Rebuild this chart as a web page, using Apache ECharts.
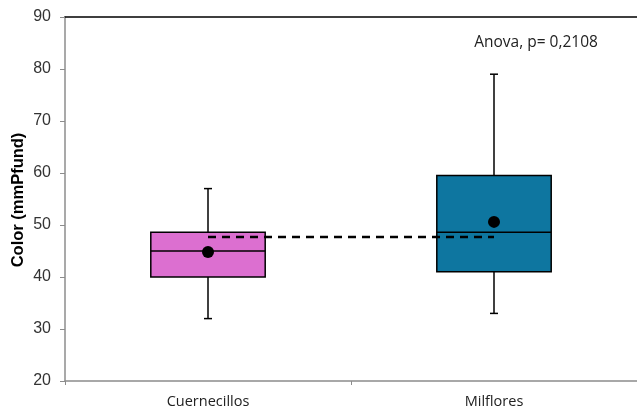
<!DOCTYPE html>
<html>
<head>
<meta charset="utf-8">
<script src="https://cdn.jsdelivr.net/npm/echarts@6/dist/echarts.min.js"></script>
<style>
  html, body { margin: 0; padding: 0; background: #fff; }
  #chart { width: 637px; height: 412px; }
</style>
</head>
<body>
<div id="chart"></div>
<script>
// categorias y estadisticos
var categories = ['Cuernecillos', 'Milflores']
var whiskerLow = [32, 33]
var q1 = [40, 41]
var median = [45, 48.6]
var q3 = [48.6, 59.5]
var whiskerHigh = [57, 79]
var means = [44.8, 50.6]
var boxColors = ['#dc6fd0', '#0e76a0']
var grandMean = 47.7
var yTicks = [20, 30, 40, 50, 60, 70, 80, 90]

var chart = echarts.init(document.getElementById('chart'))

var boxData = categories.map(function(c, i) {
  return [i, whiskerLow[i], q1[i], median[i], q3[i], whiskerHigh[i], means[i]]
})

function renderBox(params, api) {
  var i = api.value(0)
  var center = api.coord([i, api.value(3)])[0]
  var w = api.size([1, 0])[0] * 0.4
  var yLo = api.coord([i, api.value(1)])[1]
  var yQ1 = api.coord([i, api.value(2)])[1]
  var yMed = api.coord([i, api.value(3)])[1]
  var yQ3 = api.coord([i, api.value(4)])[1]
  var yHi = api.coord([i, api.value(5)])[1]
  var yMean = api.coord([i, api.value(6)])[1]
  var stroke = { stroke: '#000', lineWidth: 1.5, fill: null }
  var cap = 4
  return {
    type: 'group',
    children: [
      { type: 'line', shape: { x1: center, y1: yHi, x2: center, y2: yQ3 }, style: stroke },
      { type: 'line', shape: { x1: center, y1: yQ1, x2: center, y2: yLo }, style: stroke },
      { type: 'line', shape: { x1: center - cap, y1: yHi, x2: center + cap, y2: yHi }, style: stroke },
      { type: 'line', shape: { x1: center - cap, y1: yLo, x2: center + cap, y2: yLo }, style: stroke },
      {
        type: 'rect',
        shape: { x: center - w / 2, y: yQ3, width: w, height: yQ1 - yQ3 },
        style: { fill: boxColors[i], stroke: '#000', lineWidth: 1.5 }
      },
      { type: 'line', shape: { x1: center - w / 2, y1: yMed, x2: center + w / 2, y2: yMed }, style: stroke },
      { type: 'circle', shape: { cx: center, cy: yMean, r: 6 }, style: { fill: '#000' } }
    ]
  }
}

chart.setOption({
  animation: false,
  grid: {
    left: 65,
    right: 0,
    top: 17,
    bottom: 31
  },
  xAxis: [{
    type: 'category',
    data: categories,
    axisLine: { lineStyle: { color: '#8c8c8c', width: 1.5 } },
    axisTick: { show: true, length: 4, lineStyle: { color: '#8c8c8c' } },
    axisLabel: {
      color: '#222',
      fontSize: 14.5,
      fontFamily: 'Open Sans',
      margin: 13
    },
    splitLine: { show: false }
  }, {
    type: 'category',
    position: 'top',
    data: categories,
    axisLine: { lineStyle: { color: '#000', width: 1.5 } },
    axisTick: { show: false },
    axisLabel: { show: false }
  }],
  yAxis: {
    type: 'value',
    min: yTicks[0],
    max: yTicks[yTicks.length - 1],
    interval: 10,
    axisLine: { show: true, lineStyle: { color: '#8c8c8c', width: 1.5 } },
    axisTick: { show: true, length: 5, lineStyle: { color: '#8c8c8c' } },
    axisLabel: {
      color: '#333',
      fontSize: 16,
      fontFamily: 'Liberation Sans',
      margin: 14
    },
    splitLine: { show: false }
  },
  graphic: [{
    type: 'text',
    x: 18,
    y: 200,
    rotation: Math.PI / 2,
    style: {
      text: 'Color (mmPfund)',
      fill: '#000',
      font: 'bold 16.5px "Liberation Sans"',
      align: 'center',
      verticalAlign: 'middle'
    }
  }, {
    type: 'text',
    x: 536,
    y: 43,
    style: {
      text: 'Anova, p= 0,2108',
      fill: '#222',
      font: '15.5px "Open Sans"',
      align: 'center',
      verticalAlign: 'middle'
    }
  }],
  series: [{
    type: 'custom',
    renderItem: renderBox,
    data: boxData,
    z: 2
  }, {
    type: 'line',
    data: [[0, grandMean], [1, grandMean]],
    symbol: 'none',
    lineStyle: { color: '#000', width: 2.5, type: [8, 6] },
    z: 3
  }]
})
</script>
</body>
</html>
